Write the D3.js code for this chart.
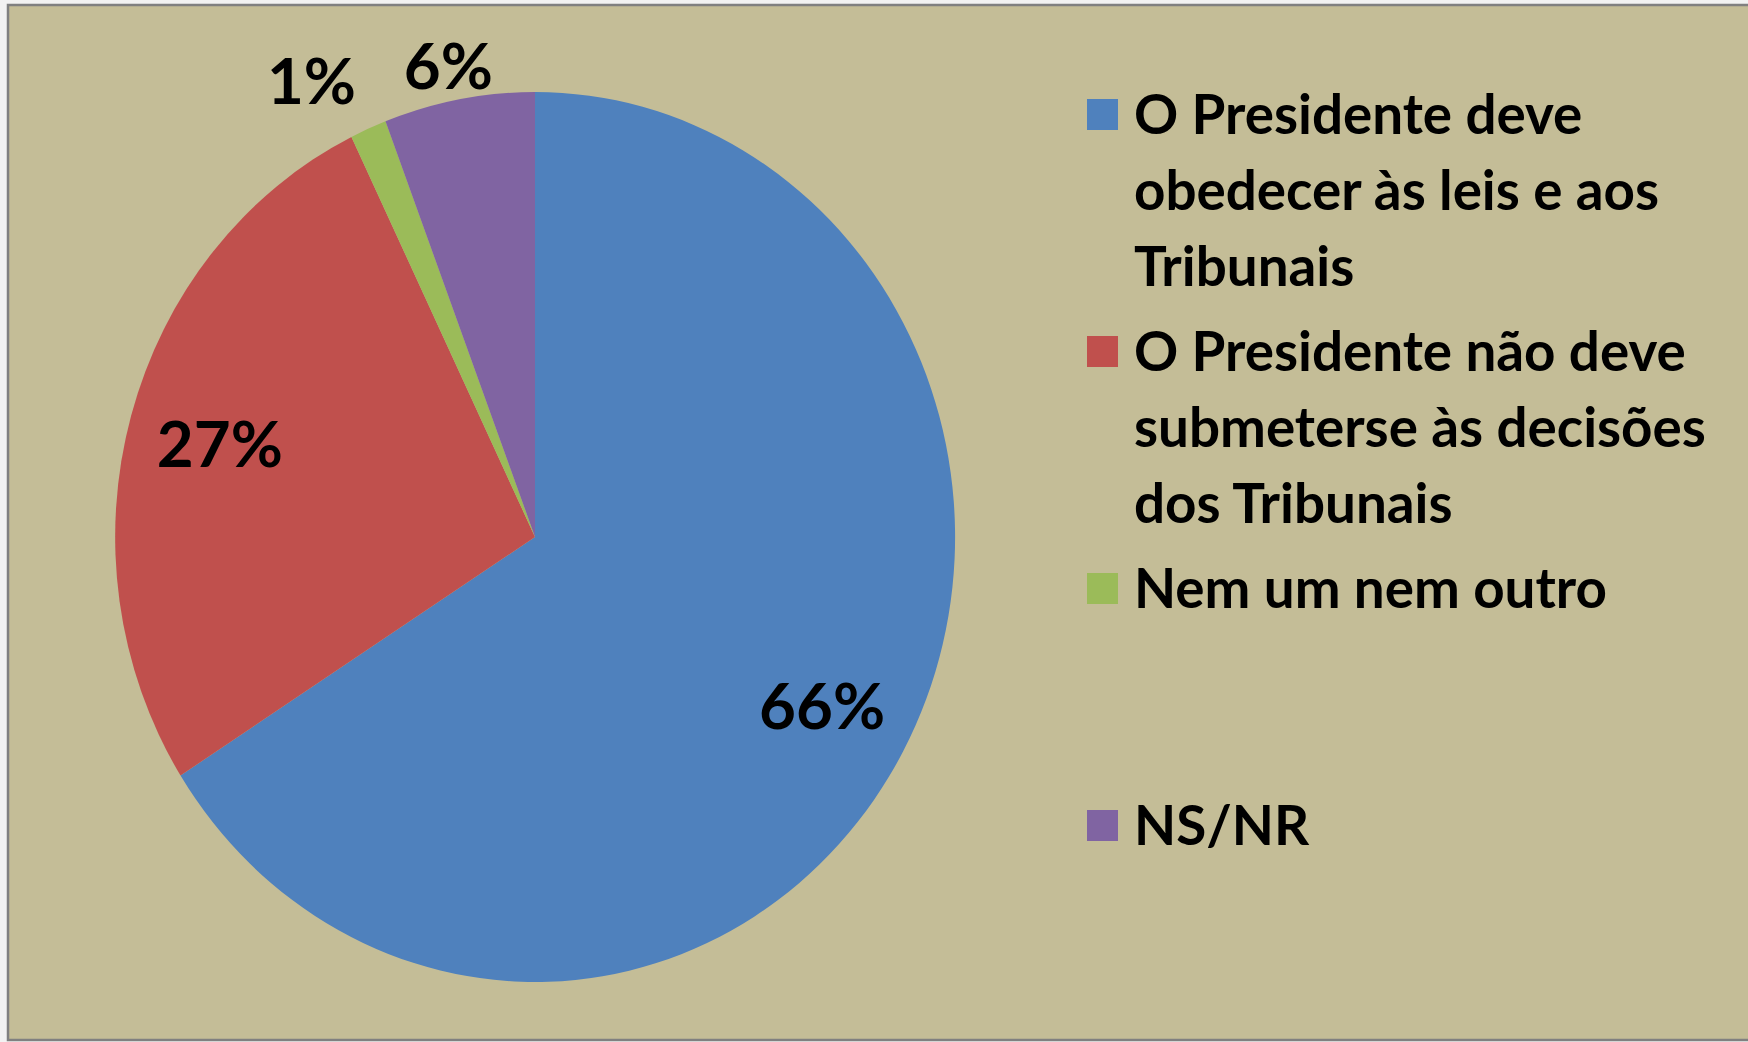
<!DOCTYPE html>
<html lang="pt">

<head>
    <meta charset="UTF-8">
    <script src="https://d3js.org/d3.v7.min.js"></script>
    <title>Pie</title>
    <style>
        html, body {
            margin: 0;
            padding: 0;
            background: #f2f2f2;
        }
        svg {
            display: block;
        }
        text {
            font-family: Lato, "Open Sans", sans-serif;
            font-weight: bold;
            fill: #000;
        }
    </style>
</head>

<body>
    <div id="app"></div>
    <script>
        const svg_width = 1748;
        const svg_height = 1042;

        // data
        var categories = ['blue', 'red', 'green', 'purple']
        var values = [66, 26.8, 1.4, 5.8]
        var legend_lines = [
            ['O Presidente deve', 'obedecer às leis e aos', 'Tribunais'],
            ['O Presidente não deve', 'submeterse às decisões', 'dos Tribunais'],
            ['Nem um nem outro'],
            ['NS/NR']
        ]
        var colors = ['#4F81BD', '#C0504D', '#9BBB59', '#8064A2']

        // layout
        const cx = 535, cy = 537;
        const rx = 420, ry = 445;
        const label_size_target = 126;   // width of "27%"
        const legend_x = 1087;
        const legend_text_x = 1134;
        const legend_top = 134;
        const line_h = 76;
        const slot_h = 237;
        const legend_width_target = 572; // width of longest legend line

        var svg = d3.select('#app')
            .append('svg')
            .attr('width', svg_width)
            .attr('height', svg_height)

        // chart area
        svg.append('rect')
            .attr('x', 8)
            .attr('y', 5)
            .attr('width', svg_width)
            .attr('height', 1035)
            .attr('fill', '#C4BD97')
            .attr('stroke', '#808080')
            .attr('stroke-width', 2.5)

        var pie = d3.pie().sort(null).value(function (d) { return d })
        var arcs = pie(values)

        // unit circle, stretched to an ellipse
        var arc = d3.arc().innerRadius(0).outerRadius(1)
        var pie_g = svg.append('g')
            .attr('transform', 'translate(' + cx + ',' + cy + ') scale(' + rx + ',' + ry + ')')

        pie_g.selectAll('path')
            .data(arcs)
            .enter()
            .append('path')
            .attr('d', arc)
            .attr('fill', function (d, i) { return colors[i] })

        // labels
        var label_g = svg.append('g')
        var probe = label_g.append('text').attr('font-size', 100).text('27%')
        var label_size = 100 * label_size_target / probe.node().getComputedTextLength()
        probe.remove()

        var labels = label_g.selectAll('text')
            .data(arcs)
            .enter()
            .append('text')
            .attr('font-size', label_size)
            .attr('text-anchor', 'middle')
            .attr('dominant-baseline', 'central')
            .text(function (d) { return Math.round(d.value) + '%' })

        var boxes = []
        labels.each(function (d, i) {
            var a = (d.startAngle + d.endAngle) / 2
            var dx = Math.sin(a), dy = -Math.cos(a)
            var w = this.getComputedTextLength() / 2
            var h = label_size * 0.33
            var x, y
            if (d.value > 10) {
                x = cx + dx * rx * 0.78
                y = cy + dy * ry * 0.78
            } else {
                var px = cx + dx * rx, py = cy + dy * ry
                x = px + dx * (w + 14)
                y = py + dy * (h + 14)
            }
            boxes[i] = { x: x, y: y, w: w, h: h, outside: d.value <= 10 }
        })

        // push crowded outside labels apart (earlier one goes up-left)
        var min_gap = label_size * 0.75
        for (var i = boxes.length - 2; i >= 0; i--) {
            var b = boxes[i], n = boxes[i + 1]
            if (!b.outside || !n.outside) continue
            var gap = (n.x - n.w) - (b.x + b.w)
            if (gap < min_gap) {
                var shift = min_gap - gap
                b.x -= shift
                b.y -= shift * 0.5
            }
        }

        labels
            .attr('x', function (d, i) { return boxes[i].x })
            .attr('y', function (d, i) { return boxes[i].y })

        // legend
        var legend = svg.append('g')
        var probe2 = legend.append('text').attr('font-size', 100).text('submeterse às decisões')
        var legend_size = 100 * legend_width_target / probe2.node().getComputedTextLength()
        probe2.remove()

        var items = legend.selectAll('g')
            .data(legend_lines)
            .enter()
            .append('g')
            .attr('transform', function (d, i) {
                return 'translate(0,' + (legend_top + i * slot_h) + ')'
            })

        items.append('rect')
            .attr('x', legend_x)
            .attr('y', -35)
            .attr('width', 31)
            .attr('height', 31)
            .attr('fill', function (d, i) { return colors[i] })

        items.selectAll('text')
            .data(function (d) { return d })
            .enter()
            .append('text')
            .attr('x', legend_text_x)
            .attr('y', function (d, i) { return i * line_h })
            .attr('font-size', legend_size)
            .text(function (d) { return d })
    </script>
</body>

</html>
